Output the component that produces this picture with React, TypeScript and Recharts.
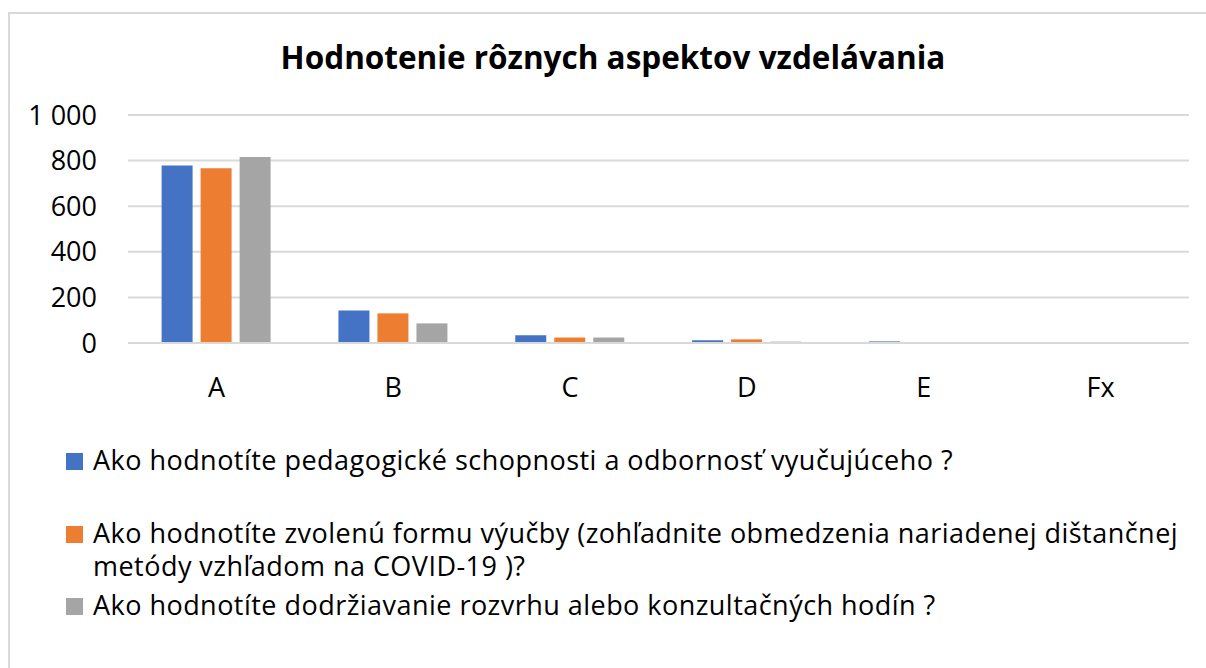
import { BarChart, Bar, XAxis, YAxis, CartesianGrid } from "recharts";

const CATEGORIES = ["A", "B", "C", "D", "E", "Fx"];
const PEDAGOGY = [778, 142, 34, 12, 7, 0];
const FORM = [766, 130, 24, 16, 0, 0];
const SCHEDULE = [816, 86, 24, 6, 0, 0];
const Y_TICKS = [0, 200, 400, 600, 800, 1000];

const SERIES_NAMES = [
  "Ako hodnotíte pedagogické schopnosti a odbornosť vyučujúceho ?",
  "Ako hodnotíte zvolenú formu výučby (zohľadnite obmedzenia nariadenej dištančnej metódy vzhľadom na COVID-19 )?",
  "Ako hodnotíte dodržiavanie rozvrhu alebo konzultačných hodín ?",
];
const COLORS = ["#4472c4", "#ed7d31", "#a5a5a5"];
const KEYS = ["pedagogy", "form", "schedule"];

const data = CATEGORIES.map((c, i) => ({
  name: c,
  pedagogy: PEDAGOGY[i],
  form: FORM[i],
  schedule: SCHEDULE[i],
}));

const FONT = "'Open Sans', 'Noto Sans', sans-serif";
const GRID = "#d9d9d9";

const fmt = (v: number) => String(v).replace(/\B(?=(\d{3})+(?!\d))/g, " ");

// legend rows: top offset of each item inside the frame
const LEGEND_TOP = [429, 502, 574];

export default function App() {
  return (
    <div
      style={{
        position: "absolute",
        left: 8,
        top: 12,
        width: 1198,
        height: 670,
        borderTop: `2px solid ${GRID}`,
        borderLeft: `2px solid ${GRID}`,
        background: "#fff",
        fontFamily: FONT,
        color: "#000",
      }}
    >
      <style>{`body{overflow:hidden}`}</style>
      <div
        style={{
          position: "absolute",
          left: 0,
          top: 21,
          width: 1206,
          textAlign: "center",
          fontSize: 31.5,
          fontWeight: 700,
          lineHeight: "43px",
        }}
      >
        Hodnotenie rôznych aspektov vzdelávania
      </div>
      <div style={{ position: "absolute", left: 0, top: 0 }}>
        <BarChart
          width={1190}
          height={420}
          data={data}
          margin={{ top: 101, right: 11, left: 0, bottom: 30 }}
          barCategoryGap="19%"
          barGap={8}
        >
          <CartesianGrid vertical={false} stroke={GRID} strokeWidth={2} />
          <XAxis
            dataKey="name"
            height={61}
            tickLine={false}
            tickSize={0}
            tickMargin={35}
            axisLine={{ stroke: GRID, strokeWidth: 2 }}
            tick={{ fill: "#000", fontSize: 27, fontFamily: FONT }}
          />
          <YAxis
            width={118}
            domain={[0, 1000]}
            ticks={Y_TICKS}
            interval={0}
            tickFormatter={fmt}
            axisLine={false}
            tickLine={false}
            tickSize={0}
            tickMargin={31}
            tick={{ fill: "#000", fontSize: 27, fontFamily: FONT }}
          />
          {KEYS.map((k, i) => (
            <Bar key={k} dataKey={k} name={SERIES_NAMES[i]} fill={COLORS[i]} isAnimationActive={false} />
          ))}
        </BarChart>
      </div>
      {SERIES_NAMES.map((n, i) => (
        <div
          key={n}
          style={{
            position: "absolute",
            left: 56,
            top: LEGEND_TOP[i],
            width: 1136,
            display: "flex",
            alignItems: "flex-start",
            fontSize: 27,
            lineHeight: "33px",
            letterSpacing: 0.47,
          }}
        >
          <span
            style={{
              display: "inline-block",
              width: 17,
              height: 17,
              background: COLORS[i],
              marginTop: 10,
              marginRight: 10,
              flex: "none",
            }}
          />
          <span>{n}</span>
        </div>
      ))}
    </div>
  );
}
